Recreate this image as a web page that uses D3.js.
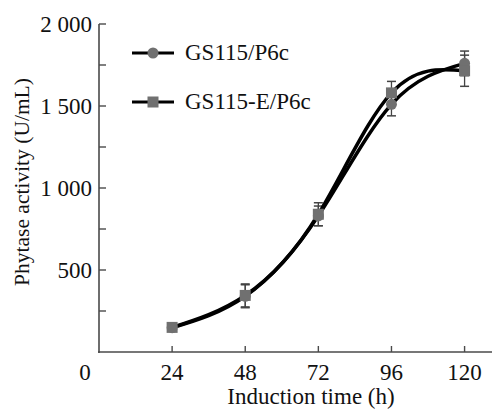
<!DOCTYPE html>
<html><head><meta charset="utf-8">
<script src="https://cdn.jsdelivr.net/npm/d3@7"></script>
<style>body{margin:0;background:#fff}svg{display:block}</style>
</head><body><svg id="c" width="499" height="410"></svg>
<script>
const times = [24, 48, 72, 96, 120];
const xTicks = [24, 48, 72, 96, 120];
const yTicks = [500, 1000, 1500, 2000];
const yTickLabels = ["500", "1\u00A0000", "1\u00A0500", "2\u00A0000"];
const seriesNames = ["GS115/P6c", "GS115-E/P6c"];
const gs115 = [148, 340, 830, 1510, 1760];
const gs115Err = [15, 70, 60, 70, 75];
const gs115E = [150, 345, 840, 1580, 1715];
const gs115EErr = [15, 70, 70, 70, 95];

const FONT = "'Liberation Serif', 'Times New Roman', Times, serif";
const svg = d3.select("#c").attr("font-family", FONT);
const x = d3.scaleLinear().domain([0, 129]).range([99, 492]);
const y = d3.scaleLinear().domain([0, 2000]).range([352, 24]);
const axisCol = "#4a4a4a", markCol = "#707070";

// axes
svg.append("line").attr("x1", 99).attr("x2", 99).attr("y1", y(2000)).attr("y2", y(0) + 1)
  .attr("stroke", axisCol).attr("stroke-width", 1.6);
svg.append("line").attr("x1", 98).attr("x2", x(129)).attr("y1", y(0)).attr("y2", y(0))
  .attr("stroke", axisCol).attr("stroke-width", 1.6);
const yMinor = d3.range(250, 2001, 250);
svg.selectAll(".yt").data(yMinor).enter().append("line")
  .attr("x1", 99).attr("x2", 106).attr("y1", d => y(d)).attr("y2", d => y(d))
  .attr("stroke", axisCol).attr("stroke-width", 1.4);
svg.selectAll(".xt").data(xTicks).enter().append("line")
  .attr("x1", d => x(d)).attr("x2", d => x(d)).attr("y1", y(0)).attr("y2", y(0) - 6)
  .attr("stroke", axisCol).attr("stroke-width", 1.4);
svg.selectAll(".yl").data(yTicks).enter().append("text")
  .attr("x", 92).attr("y", d => y(d) + 7.5).attr("text-anchor", "end")
  .attr("font-family", FONT).attr("font-size", 23).attr("fill", "#111")
  .text((d, i) => yTickLabels[i]);
svg.selectAll(".xl").data(xTicks).enter().append("text")
  .attr("x", d => x(d)).attr("y", 380).attr("text-anchor", "middle")
  .attr("font-family", FONT).attr("font-size", 23).attr("fill", "#111").text(d => d);
svg.append("text").attr("x", 85).attr("y", 380).attr("text-anchor", "middle")
  .attr("font-family", FONT).attr("font-size", 23).attr("fill", "#111").text("0");
svg.append("text").attr("x", 311).attr("y", 404).attr("text-anchor", "middle")
  .attr("font-family", FONT).attr("font-size", 23).attr("fill", "#111").text("Induction time (h)");
svg.append("text").attr("transform", "translate(29,182) rotate(-90)").attr("text-anchor", "middle")
  .attr("font-family", FONT).attr("font-size", 21.5).attr("fill", "#111").text("Phytase activity (U/mL)");

const series = [
  {vals: gs115, err: gs115Err, shape: "circle"},
  {vals: gs115E, err: gs115EErr, shape: "square"}
];
const line = d3.line().x((d, i) => x(times[i])).y(d => y(d)).curve(d3.curveNatural);

series.forEach(s => {
  const g = svg.append("g");
  times.forEach((t, i) => {
    const cx = x(t), top = y(s.vals[i] + s.err[i]), bot = y(s.vals[i] - s.err[i]);
    g.append("line").attr("x1", cx).attr("x2", cx).attr("y1", top).attr("y2", bot).attr("stroke", "#444").attr("stroke-width", 1.3);
    [top, bot].forEach(yy => g.append("line").attr("x1", cx - 4.5).attr("x2", cx + 4.5).attr("y1", yy).attr("y2", yy).attr("stroke", "#444").attr("stroke-width", 1.5));
  });
});
series.forEach(s => {
  svg.append("path").datum(s.vals).attr("d", line).attr("fill", "none")
    .attr("stroke", "#000").attr("stroke-width", 3.5);
});
function marker(g, shape, cx, cy) {
  if (shape === "circle") g.append("circle").attr("cx", cx).attr("cy", cy).attr("r", 5.5).attr("fill", markCol);
  else g.append("rect").attr("x", cx - 5.5).attr("y", cy - 5.5).attr("width", 11).attr("height", 11).attr("fill", markCol);
}
series.forEach(s => {
  const g = svg.append("g");
  times.forEach((t, i) => marker(g, s.shape, x(t), y(s.vals[i])));
});

// legend
series.forEach((s, i) => {
  const ly = 53 + i * 49;
  svg.append("line").attr("x1", 132).attr("x2", 174).attr("y1", ly).attr("y2", ly).attr("stroke", "#000").attr("stroke-width", 3);
  marker(svg, s.shape, 153, ly);
  svg.append("text").attr("x", 185).attr("y", ly + 7)
    .attr("font-family", FONT).attr("font-size", 23).attr("fill", "#111").text(seriesNames[i]);
});
</script></body></html>
